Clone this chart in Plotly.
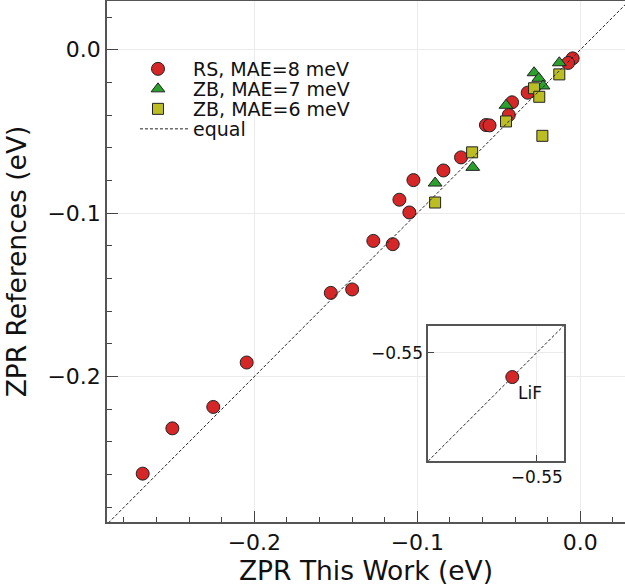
import plotly.graph_objects as go

# ---- data ----
rs_x = [-0.0047, -0.0075, -0.0323, -0.0419, -0.0439, -0.0579, -0.0557, -0.0732, -0.0840,
        -0.1024, -0.1110, -0.1049, -0.1270, -0.1151, -0.1531, -0.1400, -0.2047, -0.2252,
        -0.2503, -0.2685]
rs_y = [-0.0053, -0.0081, -0.0263, -0.0322, -0.0400, -0.0461, -0.0463, -0.0659, -0.0739,
        -0.0798, -0.0918, -0.0996, -0.1170, -0.1190, -0.1488, -0.1467, -0.1914, -0.2186,
        -0.2317, -0.2594]
zb7_x = [-0.0129, -0.0284, -0.0255, -0.0229, -0.0456, -0.0660, -0.0891]
zb7_y = [-0.0080, -0.0141, -0.0175, -0.0222, -0.0340, -0.0720, -0.0816]
zb6_x = [-0.0129, -0.0284, -0.0252, -0.0233, -0.0456, -0.0664, -0.0891]
zb6_y = [-0.0151, -0.0236, -0.0288, -0.0527, -0.0439, -0.0628, -0.0935]
equal_line = [-0.4, 0.1]
lif_x = [-0.5545]
lif_y = [-0.5545]
lif_label = "LiF"
inset_equal = [-0.6, -0.5]
labels = ["RS, MAE=8 meV", "ZB, MAE=7 meV", "ZB, MAE=6 meV", "equal"]

FONT = "DejaVu Sans"
EDGE = dict(color="#222222", width=1)
DASH = dict(color="#222222", width=1, dash="3px,2px")

fig = go.Figure()
fig.add_trace(go.Scatter(x=rs_x, y=rs_y, mode="markers", name=labels[0], legend="legend",
                         marker=dict(symbol="circle", size=13, color="#d62728", line=EDGE)))
fig.add_trace(go.Scatter(x=zb7_x, y=zb7_y, mode="markers", name=labels[1], legend="legend2",
                         marker=dict(symbol="triangle-up", size=12, color="#2ca02c", line=EDGE)))
fig.add_trace(go.Scatter(x=zb6_x, y=zb6_y, mode="markers", name=labels[2], legend="legend3",
                         marker=dict(symbol="square", size=11, color="#bcbd22", line=EDGE)))
fig.add_trace(go.Scatter(x=equal_line, y=equal_line, mode="lines", name=labels[3], legend="legend4",
                         line=DASH))

# inset
fig.add_trace(go.Scatter(x=inset_equal, y=inset_equal, mode="lines", showlegend=False,
                         xaxis="x2", yaxis="y2", line=DASH))
fig.add_trace(go.Scatter(x=lif_x, y=lif_y, mode="markers", showlegend=False,
                         xaxis="x2", yaxis="y2",
                         marker=dict(symbol="circle", size=13, color="#d62728", line=EDGE)))

axis_common = dict(
    showline=True, linecolor="#555555", linewidth=1.5,
    ticks="inside", ticklen=11, tickwidth=1, tickcolor="#444444",
    showgrid=True, gridcolor="#ebebeb", gridwidth=1,
    zeroline=False, tickfont=dict(family=FONT, size=22, color="#111111"),
    dtick=0.1, tick0=0, tickformat=".1f",
    minor=dict(dtick=0.02, tick0=0, ticks="inside", ticklen=5, tickcolor="#444444", showgrid=False),
)
inset_axis = dict(
    showline=True, mirror=True, linecolor="#555555", linewidth=1.5,
    ticks="inside", ticklen=6, tickcolor="#444444", tickvals=[-0.55],
    ticktext=["−0.55"], showgrid=True, gridcolor="#ebebeb", zeroline=False,
    tickfont=dict(family=FONT, size=17, color="#111111"),
)

PLOT_TOP, PLOT_H = 1, 521


def leg(row_px, x=0.0309, itemwidth=60):
    return dict(x=x, y=(PLOT_TOP + PLOT_H - row_px) / PLOT_H, xanchor="left", yanchor="middle",
                bgcolor="rgba(0,0,0,0)", borderwidth=0, itemwidth=itemwidth,
                font=dict(family=FONT, size=19, color="#111111"))


fig.update_layout(
    width=625, height=588,
    margin=dict(l=107, r=0, t=PLOT_TOP, b=588 - PLOT_TOP - PLOT_H),
    paper_bgcolor="white", plot_bgcolor="white",
    font=dict(family=FONT, color="#111111"),
    xaxis=dict(axis_common, range=[-0.2904, 0.0274], mirror=True,
               title=dict(text="ZPR This Work (eV)", font=dict(family=FONT, size=26.5), standoff=5)),
    yaxis=dict(axis_common, range=[-0.289, 0.0298], mirror=False,
               title=dict(text="ZPR References (eV)", font=dict(family=FONT, size=26.5), standoff=13)),
    xaxis2=dict(inset_axis, domain=[0.620, 0.882], anchor="y2", range=[-0.57, -0.545]),
    yaxis2=dict(inset_axis, domain=[0.117, 0.377], anchor="x2", range=[-0.57, -0.545]),
    legend=leg(69), legend2=leg(89), legend3=leg(109),
    legend4=leg(129, x=0.054, itemwidth=48),
    showlegend=True,
)

fig.add_annotation(x=lif_x[0], y=lif_y[0], xref="x2", yref="y2", text=lif_label,
                   showarrow=False, xanchor="left", yanchor="top", xshift=4, yshift=-4,
                   font=dict(family=FONT, size=17, color="#111111"))

fig.write_html("out.html")
